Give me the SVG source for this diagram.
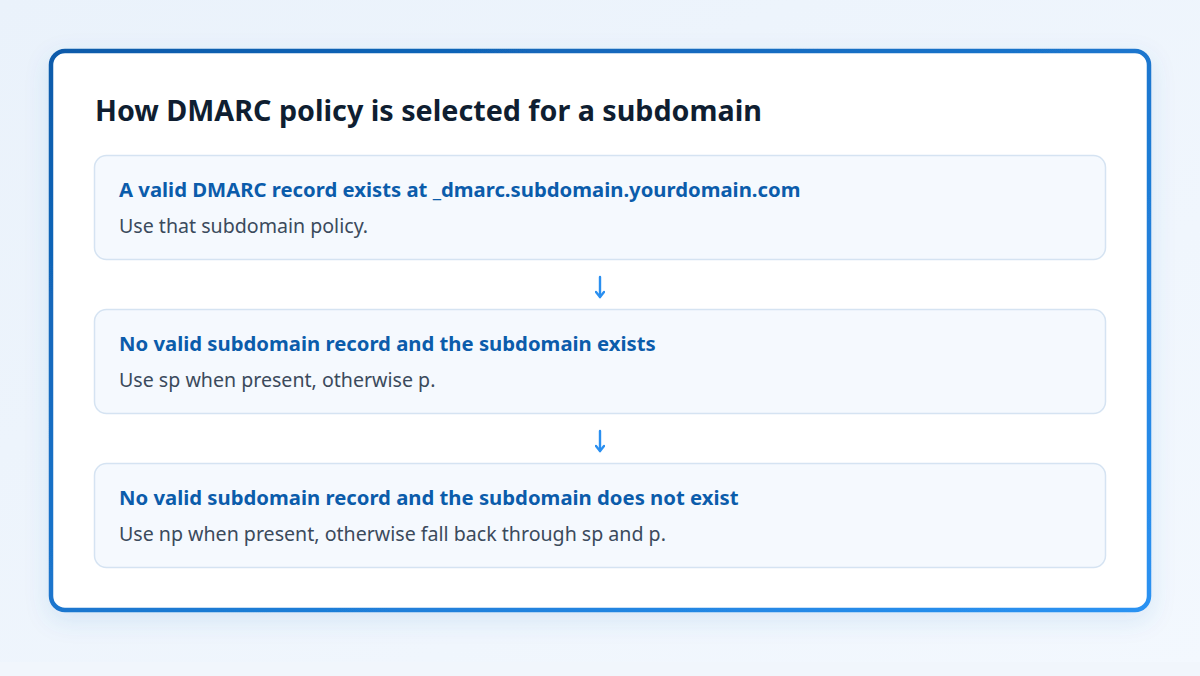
<svg xmlns="http://www.w3.org/2000/svg" width="1200" height="676" viewBox="0 0 1200 676">
<defs>
<linearGradient id="bg" x1="0" y1="0" x2="1" y2="1"><stop offset="0" stop-color="#eaf2fb"/><stop offset="1" stop-color="#f3f8fe"/></linearGradient>
<linearGradient id="frame" x1="0" y1="0" x2="1" y2="1"><stop offset="0" stop-color="#0b5aaa"/><stop offset="1" stop-color="#2b92f2"/></linearGradient>
<filter id="sh" x="-10%" y="-10%" width="120%" height="130%"><feDropShadow dx="0" dy="8" stdDeviation="12" flood-color="#2a6fc0" flood-opacity="0.12"/></filter>
<marker id="ah" viewBox="0 0 10 10" refX="8" refY="5" markerWidth="10" markerHeight="10" markerUnits="userSpaceOnUse" orient="auto"><path d="M3,1 L8,5 L3,9" fill="none" stroke="#2a8ff0" stroke-width="2.4" stroke-linecap="round" stroke-linejoin="round"/></marker>
</defs>
<style>
.box{fill:#f5f9fe;stroke:#d5e3f2;stroke-width:1.5}
.h{font-family:"Noto Sans","Liberation Sans",sans-serif;font-weight:700;font-size:20.3px;fill:#0b5cab}
.s{font-family:"Noto Sans","Liberation Sans",sans-serif;font-size:19.6px;fill:#3b4a5c}
.t{font-family:"Noto Sans","Liberation Sans",sans-serif;font-weight:700;font-size:28.7px;fill:#0f1e31}
.c{stroke:#2a8ff0;stroke-width:2.4;fill:none;stroke-linecap:round}
</style>
<rect width="1200" height="676" fill="url(#bg)"/>
<rect x="0" y="662" width="1200" height="14" fill="#f1f6fc"/>
<rect x="51" y="51" width="1098" height="559" rx="14" fill="#ffffff" stroke="url(#frame)" stroke-width="4.5" filter="url(#sh)"/>
<text class="t" x="95" y="121">How DMARC policy is selected for a subdomain</text>
<g id="node1">
<rect class="box" x="94.5" y="155.5" width="1011" height="104" rx="12"/>
<text class="h" x="119" y="197">A valid DMARC record exists at _dmarc.subdomain.yourdomain.com</text>
<text class="s" x="119" y="233">Use that subdomain policy.</text>
</g>
<g id="node2">
<rect class="box" x="94.5" y="309.5" width="1011" height="104" rx="12"/>
<text class="h" x="119" y="351">No valid subdomain record and the subdomain exists</text>
<text class="s" x="119" y="387">Use sp when present, otherwise p.</text>
</g>
<g id="node3">
<rect class="box" x="94.5" y="463.5" width="1011" height="104" rx="12"/>
<text class="h" x="119" y="505">No valid subdomain record and the subdomain does not exist</text>
<text class="s" x="119" y="541">Use np when present, otherwise fall back through sp and p.</text>
</g>
<g id="connectors">
<path class="c" d="M600,277 L600,297" marker-end="url(#ah)"/>
<path class="c" d="M600,431 L600,451" marker-end="url(#ah)"/>
</g>
</svg>
